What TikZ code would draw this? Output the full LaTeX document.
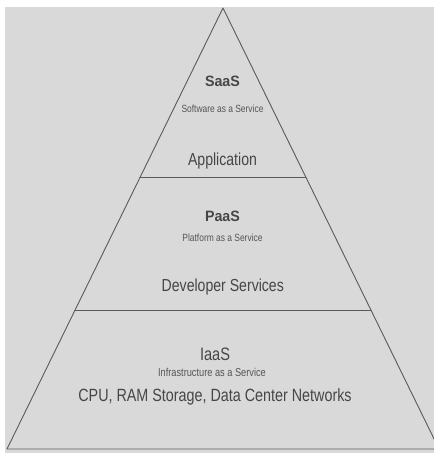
\documentclass[tikz,border=0pt]{standalone}
\usepackage{fontspec}
\setmainfont{Liberation Sans}[FakeStretch=0.81]
\newfontfamily\ttlfont{Liberation Sans}[FakeStretch=0.95]
\begin{document}
\begin{tikzpicture}[x=1pt,y=-1pt,
  edge/.style={draw=linegray,line width=0.9pt},
  lbl/.style={anchor=base,inner sep=0pt,text=txtgray},
  ttl/.style={lbl,font=\ttlfont\fontsize{15}{17}\selectfont\bfseries},
  sub/.style={lbl,font=\fontsize{10.4}{12}\selectfont,text=subgray},
  big/.style={lbl,font=\fontsize{17.4}{20}\selectfont}]
\definecolor{bggray}{RGB}{217,217,217}
\definecolor{linegray}{RGB}{90,90,90}
\definecolor{txtgray}{RGB}{70,70,70}
\definecolor{subgray}{RGB}{85,85,85}
\useasboundingbox (0,0) rectangle (434,453);
\fill[bggray] (5,7) rectangle (434,453);
\begin{scope}
\clip (0,0) rectangle (434,453);
\coordinate (apex) at (223,8);
\coordinate (bl) at (7,449);
\coordinate (br) at (439,449);
\coordinate (l1) at (140.2,177);
\coordinate (r1) at (305.8,177);
\coordinate (l2) at (75.1,310);
\coordinate (r2) at (370.9,310);
\draw[edge,line join=round] (apex) -- (bl) -- (br) -- cycle;
\draw[edge] (l1) -- (r1);
\draw[edge] (l2) -- (r2);
\end{scope}
% SaaS
\node[ttl] (saas) at (222.5,86) {SaaS};
\node[sub] (saassub) at (222.5,112.5) {Software as a Service};
\node[big] (app) at (222.5,165.5) {Application};
% PaaS
\node[ttl] (paas) at (222.5,221.5) {PaaS};
\node[sub] (paassub) at (222.5,241.5) {Platform as a Service};
\node[big] (dev) at (222.8,291) {Developer Services};
% IaaS
\node[lbl,font=\fontsize{18}{20}\selectfont] (iaas) at (215,360.5) {IaaS};
\node[sub,font=\fontsize{11.4}{13}\selectfont] (iaassub) at (212,376.5) {Infrastructure as a Service};
\node[lbl,font=\fontsize{17.7}{20}\selectfont] (cpu) at (215,401) {CPU, RAM Storage, Data Center Networks};
\end{tikzpicture}
\end{document}
